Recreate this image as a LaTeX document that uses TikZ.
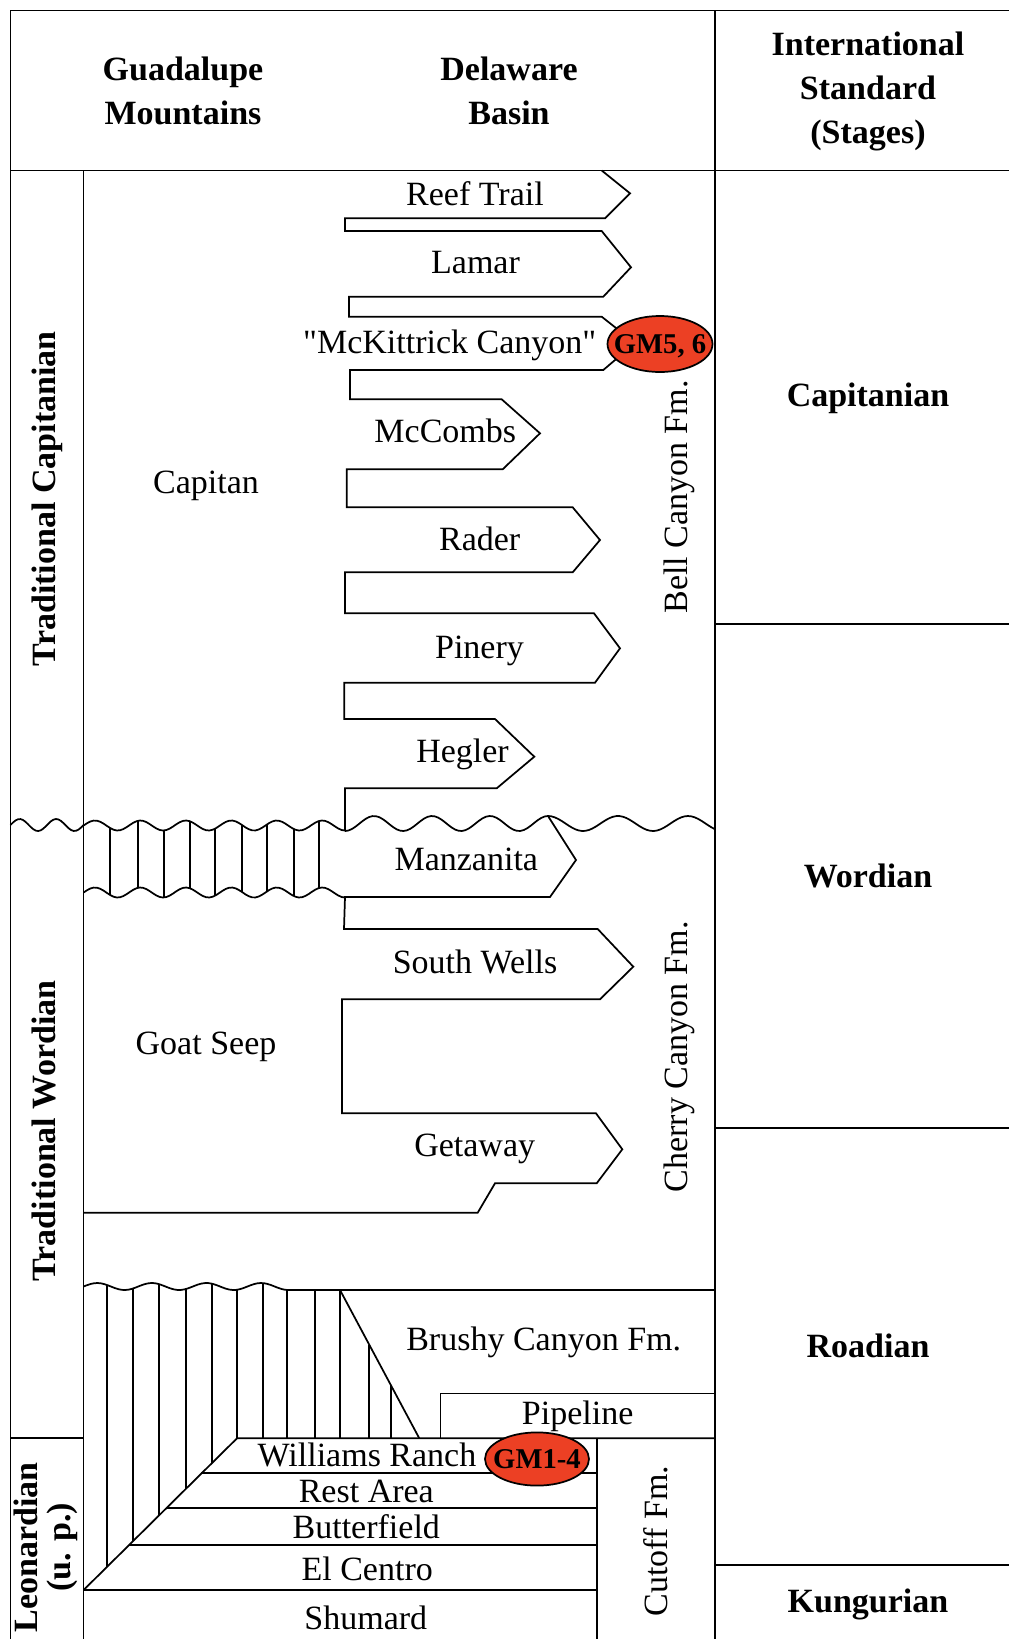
\documentclass[tikz,border=0pt]{standalone}
\usepackage{fontspec}
\setmainfont{Liberation Serif}
\definecolor{gmred}{RGB}{236,64,36}

\begin{document}
\begin{tikzpicture}[x=0.75pt,y=0.75pt,yscale=-1,xscale=1, line width=1.3pt,
    lbl/.style={font=\fontsize{25.5}{33}\selectfont, inner sep=0pt, text height=16.8pt, text depth=0pt},
    stage/.style={lbl, font=\fontsize{25.5}{33}\selectfont\bfseries},
    hdr/.style={font=\fontsize{25.5}{33}\selectfont\bfseries, inner sep=0pt, align=center},
    gmtext/.style={font=\fontsize{21.5}{24}\selectfont\bfseries, inner sep=0pt, text height=14.2pt, text depth=0pt}]
            \useasboundingbox (0,0) rectangle (1009,1639);
            %frame
            \draw (1009,10.5) -- (10.5,10.5) -- (10.5,1639);
            \draw (10.5,170.5) -- (1009,170.5);
            \draw (715,10.5) -- (715,1639);
            \draw (83.6,170.5) -- (83.6,1639);
            \draw (10.5,1438.3) -- (83.6,1438.3);
            %stages
            \foreach \y in {624,1128,1565} {
                \draw (715,\y) -- (1009,\y);
            }
            %
            %unconformity (angles in degrees: 360/period)
            \draw plot [smooth, variable=\x, domain=10.5:83.6, samples=30] ({\x},{825-6*sin(9.8495*(\x-10.5))});
            \draw plot [smooth, variable=\x, domain=83.6:345, samples=80] ({\x},{825.5-5*sin(7.919*(\x-83.6))});
            \draw plot [smooth, variable=\x, domain=345:548, samples=60] ({\x},{823.5+7.5*cos(6.2069*(\x-345))});
            \draw plot [smooth, variable=\x, domain=548:715, samples=50] ({\x},{823.5-7.5*cos(5.1429*(\x-548))});
            \draw plot [smooth, variable=\x, domain=83.6:345, samples=80] ({\x},{892.5-5*sin(7.919*(\x-83.6))});
            \foreach \x in {110,138,164,190,215,241.7,266.7,294,319} {
                \draw (\x,{825.5-5*sin(7.919*(\x-83.6))}) -- (\x,{892.5-5*sin(7.919*(\x-83.6))});
            }
            %
            %bell canyon tongues
            \draw (601.7,170.5) -- (630,193.3) -- (605,218.3) -- (345,218.3) -- (345,231) -- (601.7,231) -- (631,267.3) -- (603.3,296.7) -- (349,296.7) -- (349,316.7) -- (601.7,316.7) -- (635,343) -- (603.3,370) -- (350,370) -- (350,399.3) -- (501.7,399.3) -- (540,433.3) -- (502.7,469.3) -- (346.7,469.3) -- (346.7,507.3) -- (572.7,507.3) -- (600,540) -- (572.7,572.3) -- (345,572.3) -- (345,613.3) -- (594,613.3) -- (620,648.3) -- (595,682.7) -- (344.3,682.7) -- (344.3,719) -- (495,719) -- (534.3,756.7) -- (496.7,788.3) -- (345,788.3) -- (345,831);
            %cherry canyon tongues
            \draw (548,816) -- (576,860) -- (550,897) -- (345,897) -- (344,929) -- (597.7,929) -- (633.3,966.7) -- (600,999.3) -- (342,999.3) -- (342,1113.3) -- (596,1113.3) -- (622.3,1149.3) -- (596.7,1183.3) -- (495,1183.3) -- (477.7,1212.7) -- (83.6,1212.7);
            %
            %lower hatched area
            \draw plot [smooth, variable=\x, domain=83.6:288.3, samples=60] ({\x},{1286.5-3.5*sin(6.5934*(\x-83.6))});
            \draw (288.3,1290) -- (715,1290);
            \draw (83.6,1590) -- (237,1438.3) -- (715,1438.3);
            \draw (340,1290) -- (419.3,1438.3);
            \foreach \x in {107.3,133.3,159.3,185.7,211.7} {
                \draw (\x,{1286.5-3.5*sin(6.5934*(\x-83.6))}) -- (\x,{1590-0.991*(\x-83.6)});
            }
            \foreach \x in {237,262.7,286.7} {
                \draw (\x,{1286.5-3.5*sin(6.5934*(\x-83.6))}) -- (\x,1438.3);
            }
            \foreach \x in {315,340} {
                \draw (\x,1290) -- (\x,1438.3);
            }
            \foreach \x in {369.3,390.7} {
                \draw (\x,{1290+1.87*(\x-340)}) -- (\x,1438.3);
            }
            %pipeline
            \draw (440.5,1438.3) -- (440.5,1393.5) -- (715,1393.5);
            %leonardian beds
            \draw (201.4,1473.3) -- (596.7,1473.3);
            \draw (166,1508.3) -- (596.7,1508.3);
            \draw (129,1545) -- (596.7,1545);
            \draw (83.6,1590) -- (596.7,1590);
            \draw (596.7,1438.3) -- (596.7,1639);
            %
            %headers
            \node[hdr] (guad) at (183,91) {Guadalupe\\Mountains};
            \node[hdr] (dela) at (509,91) {Delaware\\Basin};
            \node[hdr] (intl) at (868,91.3) {International\\Standard\\(Stages)};
            %stages
            \node[stage] (capn) at (868,395) {Capitanian};
            \node[stage] (word) at (868,876) {Wordian};
            \node[stage] (road) at (868,1346.7) {Roadian};
            \node[stage] (kung) at (868,1601) {Kungurian};
            \node[stage, rotate=90] (tcap) at (44,498.7) {Traditional Capitanian};
            \node[stage, rotate=90] (twor) at (44,1131) {Traditional Wordian};
            \node[hdr, rotate=90, font=\fontsize{25.5}{25}\selectfont\bfseries] (leon) at (46,1547.5) {Leonardian\\(u. p.)};
            %units
            \node[lbl] (capitan) at (206,482) {Capitan};
            \node[lbl] (goat) at (206,1043.5) {Goat Seep};
            \node[lbl] (reef) at (475,194) {Reef Trail};
            \node[lbl] (lamar) at (475.5,262.5) {Lamar};
            \node[lbl] (mck) at (449.7,342) {\textquotedbl McKittrick Canyon\textquotedbl};
            \node[lbl] (mccombs) at (445.3,431.3) {McCombs};
            \node[lbl] (rader) at (479.7,539.5) {Rader};
            \node[lbl] (pinery) at (479.5,647) {Pinery};
            \node[lbl] (hegler) at (462.5,751.3) {Hegler};
            \node[lbl] (manz) at (466.3,859.5) {Manzanita};
            \node[lbl] (swells) at (475,962.5) {South Wells};
            \node[lbl] (getaway) at (474.7,1145.5) {Getaway};
            \node[lbl] (brushy) at (543.7,1339.4) {Brushy Canyon Fm.};
            \node[lbl] (pipe) at (577.7,1413.6) {Pipeline};
            \node[lbl] (wranch) at (367,1455.5) {Williams Ranch};
            \node[lbl] (rest) at (366.3,1491) {Rest Area};
            \node[lbl] (butter) at (366.3,1527.5) {Butterfield};
            \node[lbl] (elc) at (367.2,1569) {El Centro};
            \node[lbl] (shum) at (365.8,1618) {Shumard};
            \node[lbl, rotate=90] (bell) at (675.8,497) {Bell Canyon Fm.};
            \node[lbl, rotate=90] (cherry) at (675.8,1056.7) {Cherry Canyon Fm.};
            \node[lbl, rotate=90] (cutoff) at (655.8,1541) {Cutoff Fm.};
            %
            %samples
            \draw [fill=gmred] (660,344) ellipse (52.5 and 28);
            \node[gmtext] (gm56) at (660,344) {GM5, 6};
            \draw [fill=gmred] (537,1459) ellipse (52 and 26.6);
            \node[gmtext] (gm14) at (537,1459) {GM1-4};
            %
        \end{tikzpicture}
\end{document}
